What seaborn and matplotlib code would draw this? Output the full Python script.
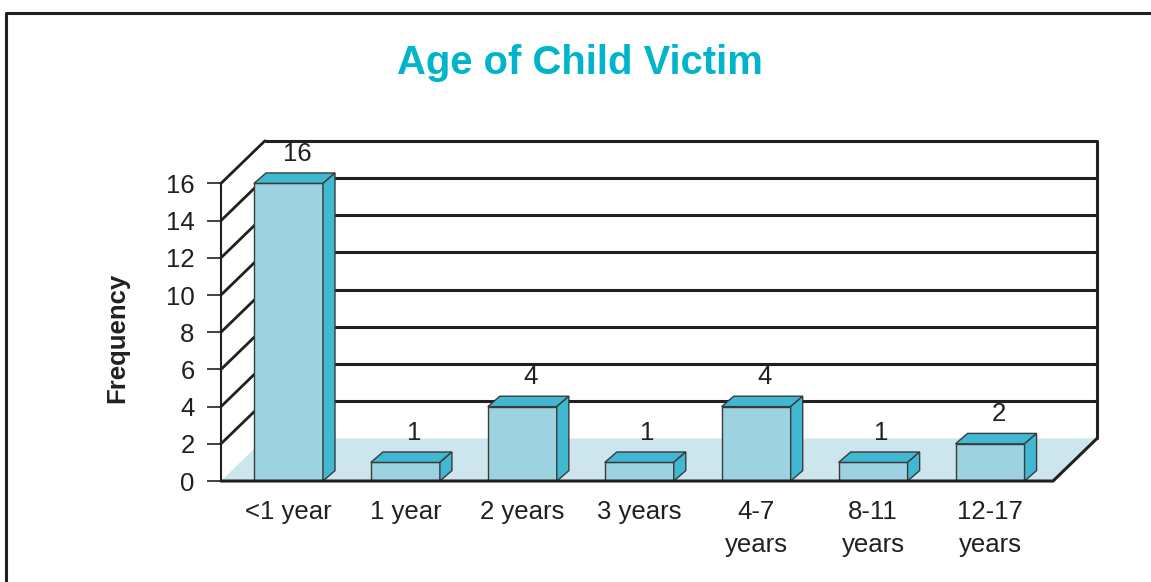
import matplotlib
matplotlib.use("Agg")
import matplotlib.pyplot as plt
import seaborn as sns
from matplotlib.patches import Polygon
from matplotlib.lines import Line2D

categories = ["<1 year", "1 year", "2 years", "3 years", "4-7\nyears", "8-11\nyears", "12-17\nyears"]
frequency = [16, 1, 4, 1, 4, 1, 2]
y_ticks = [0, 2, 4, 6, 8, 10, 12, 14, 16]

front_col = "#9dd3e1"
side_col = "#41b8d1"
floor_col = "#cde6ee"
title_col = "#00b4cc"
ink = "#231f20"

sns.set_style("white")
plt.rcParams["font.family"] = ["Liberation Sans", "DejaVu Sans"]

fig = plt.figure(figsize=(11.51, 5.82), dpi=100)
ax = fig.add_axes([0.1920, 0.1735, 0.7611, 0.5945])

sns.barplot(x=categories, y=frequency, color=front_col, width=0.59,
            edgecolor="#3a3a3a", linewidth=1, saturation=1, ax=ax)

# fake 3d depth (data units)
x_lo, x_hi = -0.577, 6.915
y_top = 18.6
wdx, wdy = 0.376, 2.29   # wall / floor depth
bdx, bdy = 0.103, 0.56   # bar depth
x_fr = x_hi - wdx

ax.set_xlim(x_lo, x_hi)
ax.set_ylim(0, y_top)

# floor
ax.add_patch(Polygon([(x_lo, 0), (x_fr, 0), (x_fr + wdx, wdy), (x_lo + wdx, wdy)],
                     closed=True, facecolor=floor_col, edgecolor="none", zorder=0))

# back wall grid + left wall diagonals
for v in y_ticks[1:]:
    ax.plot([x_lo + wdx, x_hi], [v + wdy, v + wdy], color=ink, lw=2.2,
            solid_capstyle="butt", zorder=1, clip_on=False)
    ax.plot([x_lo, x_lo + wdx], [v, v + wdy], color=ink, lw=2.0, zorder=1, clip_on=False)

ax.plot([x_hi, x_hi], [wdy, y_ticks[-1] + wdy], color=ink, lw=2.2, zorder=1, clip_on=False)
ax.plot([x_lo, x_fr, x_hi], [0, 0, wdy], color=ink, lw=2.2, zorder=4, clip_on=False)

# bar tops / sides
for p in ax.patches:
    if not hasattr(p, "get_width") or p.get_height() <= 0 or p.get_width() > 1:
        continue
    x0 = p.get_x()
    w = p.get_width()
    h = p.get_height()
    p.set_zorder(3)
    top = Polygon([(x0, h), (x0 + w, h), (x0 + w + bdx, h + bdy), (x0 + bdx, h + bdy)],
                  closed=True, facecolor=side_col, edgecolor="#3a3a3a", lw=1, zorder=3)
    side = Polygon([(x0 + w, 0), (x0 + w + bdx, bdy), (x0 + w + bdx, h + bdy), (x0 + w, h)],
                   closed=True, facecolor=side_col, edgecolor="#3a3a3a", lw=1, zorder=3)
    ax.add_patch(top)
    ax.add_patch(side)

for i, v in enumerate(frequency):
    ax.text(i + bdx * 0.7, v + 1.6, str(v), ha="center", va="center",
            fontsize=18.5, color=ink, zorder=5)

sns.despine(ax=ax, top=True, right=True, bottom=True, left=False)
ax.spines["left"].set_bounds(0, 16)
ax.spines["left"].set_color(ink)
ax.spines["left"].set_linewidth(1.5)
ax.spines["left"].set_zorder(4)

ax.set_yticks(y_ticks)
ax.tick_params(axis="y", left=True, length=10, width=1.2, color=ink, pad=9,
               labelsize=18.5, labelcolor=ink)
ax.tick_params(axis="x", length=0, pad=14, labelsize=18.5, labelcolor=ink)
for lbl in ax.get_xticklabels():
    lbl.set_linespacing(1.45)
ax.set_xlabel("")
ax.set_ylabel("")

fig.text(117 / 1151, 1 - 338 / 582, "Frequency", rotation=90, fontsize=18.5,
         fontweight="bold", ha="center", va="center", color=ink)
fig.text(580 / 1151, 1 - 63 / 582, "Age of Child Victim", fontsize=28.8,
         fontweight="bold", color=title_col, ha="center", va="center")

# outer frame (only left and top visible)
fig.add_artist(Line2D([6 / 1151, 6 / 1151, 1.0], [0, 1 - 13 / 582, 1 - 13 / 582],
                      transform=fig.transFigure, color=ink, lw=2.2))

fig.savefig("out.png", dpi=100)
